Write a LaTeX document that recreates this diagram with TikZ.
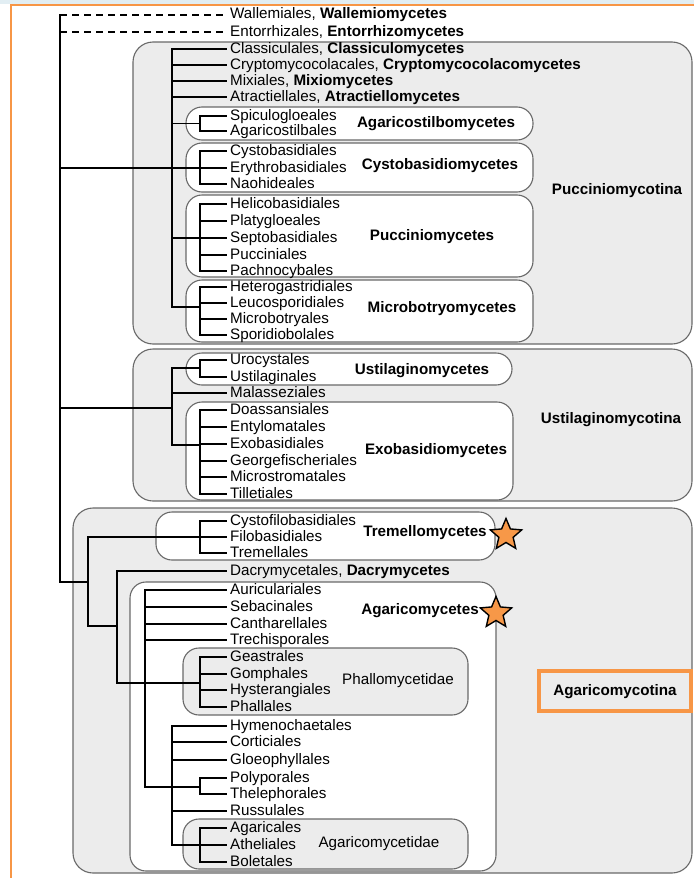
\documentclass[tikz,border=0pt]{standalone}
\usepackage{fontspec}
\setmainfont{Liberation Sans}
\usetikzlibrary{shapes.geometric}
\definecolor{boxgray}{RGB}{236,236,236}
\definecolor{edgegray}{RGB}{105,105,105}
\definecolor{starorange}{RGB}{247,152,72}
\definecolor{frameorange}{RGB}{247,150,70}
\definecolor{stripblue}{RGB}{226,238,243}
\tikzset{
  taxon/.style={anchor=west, inner xsep=4pt, inner ysep=0pt, text height=11pt, text depth=3pt, font=\fontsize{15.2}{17}\selectfont},
  grouplabel/.style={inner sep=0pt, text height=11pt, text depth=3pt, font=\fontsize{15.2}{17}\selectfont\bfseries},
  subclasslabel/.style={inner sep=0pt, text height=11pt, text depth=3pt, font=\fontsize{15.2}{17}\selectfont},
  subphylumbox/.style={draw=edgegray, fill=boxgray, line width=1.1pt, rounded corners=20pt},
  classbox/.style={draw=edgegray, fill=white, line width=1.1pt, rounded corners=16pt},
  subclassbox/.style={draw=edgegray, fill=boxgray, line width=1.1pt, rounded corners=16pt},
  branch/.style={line width=1.5pt, line cap=rect},
  uncertain/.style={line width=1.5pt, dash pattern=on 7pt off 5pt},
  goldstar/.style={star, star points=5, star point ratio=2.2, minimum size=33pt, inner sep=0pt, draw=black, line width=1.4pt, fill=starorange}
}

\begin{document}
\begin{tikzpicture}[x=1pt, y=-1pt]
  \useasboundingbox (0,0) rectangle (694,878);
  \fill[stripblue] (0,0) rectangle (694,4);
  \draw[frameorange, line width=2pt] (694,5) -- (11,5) -- (11,878);

  % subphylum boxes
  \path[subphylumbox] (133,42) rectangle (692,344);
  \path[subphylumbox] (133,349) rectangle (692,501);
  \path[subphylumbox] (73,508) rectangle (692,873);
  % class boxes
  \path[classbox] (186,107) rectangle (533,140);
  \path[classbox] (186,143) rectangle (533,192);
  \path[classbox] (186,195) rectangle (533,277);
  \path[classbox] (186,280) rectangle (533,342);
  \path[classbox] (186,353) rectangle (512,385);
  \path[classbox] (186,402) rectangle (513,500);
  \path[classbox] (156,512) rectangle (495,560);
  \path[classbox] (130,582) rectangle (496,871);
  % subclass boxes
  \path[subclassbox] (183,648) rectangle (468,715);
  \path[subclassbox] (183,819) rectangle (468,869);

  % group labels
  \node[grouplabel] (pucl) at (617,190) {Pucciniomycotina};
  \node[grouplabel] (agstl) at (436,123) {Agaricostilbomycetes};
  \node[grouplabel] (cysl) at (440,165) {Cystobasidiomycetes};
  \node[grouplabel] (pucml) at (432,236) {Pucciniomycetes};
  \node[grouplabel] (micl) at (442,308) {Microbotryomycetes};
  \node[grouplabel] (ustl) at (611,419) {Ustilaginomycotina};
  \node[grouplabel] (usml) at (422,370) {Ustilaginomycetes};
  \node[grouplabel] (exol) at (436,450) {Exobasidiomycetes};
  \node[grouplabel] (trel) at (425,532) {Tremellomycetes};
  \node[grouplabel] (agcl) at (420,610) {Agaricomycetes};
  \node[subclasslabel] (phll) at (398,680) {Phallomycetidae};
  \node[subclasslabel] (agdl) at (379,843) {Agaricomycetidae};
  \node[grouplabel, draw=frameorange, line width=3.5pt, minimum width=152pt, minimum height=40pt] (agml) at (615,691) {Agaricomycotina};
  \node[goldstar] (trestar) at (506,535) {};
  \node[goldstar] (agcstar) at (496,613) {};

  % leaves
  \node[taxon] (wal) at (226,15) {Wallemiales, \textbf{Wallemiomycetes}};
  \node[taxon] (ent) at (226,32) {Entorrhizales, \textbf{Entorrhizomycetes}};
  \node[taxon] (cla) at (226,49) {Classiculales, \textbf{Classiculomycetes}};
  \node[taxon] (cry) at (226,65) {Cryptomycocolacales, \textbf{Cryptomycocolacomycetes}};
  \node[taxon] (mix) at (226,81) {Mixiales, \textbf{Mixiomycetes}};
  \node[taxon] (atr) at (226,97) {Atractiellales, \textbf{Atractiellomycetes}};
  \node[taxon] (spi) at (226,116) {Spiculogloeales};
  \node[taxon] (agc) at (226,131) {Agaricostilbales};
  \node[taxon] (cys) at (226,151) {Cystobasidiales};
  \node[taxon] (ery) at (226,168) {Erythrobasidiales};
  \node[taxon] (nao) at (226,184) {Naohideales};
  \node[taxon] (hel) at (226,204) {Helicobasidiales};
  \node[taxon] (pla) at (226,221) {Platygloeales};
  \node[taxon] (sep) at (226,238) {Septobasidiales};
  \node[taxon] (puc) at (226,255) {Pucciniales};
  \node[taxon] (pac) at (226,271) {Pachnocybales};
  \node[taxon] (het) at (226,287) {Heterogastridiales};
  \node[taxon] (leu) at (226,303) {Leucosporidiales};
  \node[taxon] (mib) at (226,319) {Microbotryales};
  \node[taxon] (spo) at (226,335) {Sporidiobolales};
  \node[taxon] (uro) at (226,360) {Urocystales};
  \node[taxon] (ust) at (226,377) {Ustilaginales};
  \node[taxon] (mal) at (226,393) {Malasseziales};
  \node[taxon] (doa) at (226,410) {Doassansiales};
  \node[taxon] (ety) at (226,427) {Entylomatales};
  \node[taxon] (exo) at (226,444) {Exobasidiales};
  \node[taxon] (geo) at (226,461) {Georgefischeriales};
  \node[taxon] (mis) at (226,477) {Microstromatales};
  \node[taxon] (til) at (226,494) {Tilletiales};
  \node[taxon] (cyf) at (226,521) {Cystofilobasidiales};
  \node[taxon] (fil) at (226,537) {Filobasidiales};
  \node[taxon] (tre) at (226,553) {Tremellales};
  \node[taxon] (dac) at (226,571) {Dacrymycetales, \textbf{Dacrymycetes}};
  \node[taxon] (aur) at (226,590) {Auriculariales};
  \node[taxon] (seb) at (226,607) {Sebacinales};
  \node[taxon] (can) at (226,624) {Cantharellales};
  \node[taxon] (trc) at (226,640) {Trechisporales};
  \node[taxon] (gea) at (226,657) {Geastrales};
  \node[taxon] (gom) at (226,674) {Gomphales};
  \node[taxon] (hys) at (226,690) {Hysterangiales};
  \node[taxon] (pha) at (226,707) {Phallales};
  \node[taxon] (hym) at (226,726) {Hymenochaetales};
  \node[taxon] (cor) at (226,742) {Corticiales};
  \node[taxon] (glo) at (226,760) {Gloeophyllales};
  \node[taxon] (pol) at (226,778) {Polyporales};
  \node[taxon] (the) at (226,794) {Thelephorales};
  \node[taxon] (rus) at (226,811) {Russulales};
  \node[taxon] (agr) at (226,828) {Agaricales};
  \node[taxon] (ath) at (226,845) {Atheliales};
  \node[taxon] (bol) at (226,862) {Boletales};

  % branching points
  \coordinate (nRoot) at (60,15);
  \coordinate (nPuc) at (172,168);
  \coordinate (nUst) at (172,408);
  \coordinate (nAgm) at (88,582);
  \coordinate (nAgst) at (200,123.5);
  \coordinate (nCys) at (200,168);
  \coordinate (nPucm) at (200,238);
  \coordinate (nMic) at (200,307);
  \coordinate (nUsm) at (200,368);
  \coordinate (nExo) at (200,445);
  \coordinate (nTre) at (200,537);
  \coordinate (nBas) at (117,626);
  \coordinate (nAgc) at (145,683);
  \coordinate (nPhl) at (200,683);
  \coordinate (nAgrc) at (172,787);
  \coordinate (nPol) at (200,787);
  \coordinate (nAgd) at (200,845);

  % backbone
  \draw[branch] (nRoot) -- (nRoot |- nAgm);
  \draw[uncertain] (nRoot |- wal.west) -- (wal.west);
  \draw[uncertain] (nRoot |- ent.west) -- (ent.west);
  \foreach \c in {nPuc,nUst,nAgm}
    \draw[branch] (nRoot |- \c) -- (\c);

  % Pucciniomycotina
  \draw[branch] (nPuc |- cla.west) -- (nPuc |- nMic);
  \foreach \c in {cla.west,cry.west,mix.west,atr.west,nAgst,nCys,nPucm,nMic}
    \draw[branch] (nPuc |- \c) -- (\c);
  \draw[branch] (nAgst |- spi.west) -- (nAgst |- agc.west);
  \foreach \c in {spi,agc}
    \draw[branch] (nAgst |- \c.west) -- (\c.west);
  \draw[branch] (nCys |- cys.west) -- (nCys |- nao.west);
  \foreach \c in {cys,ery,nao}
    \draw[branch] (nCys |- \c.west) -- (\c.west);
  \draw[branch] (nPucm |- hel.west) -- (nPucm |- pac.west);
  \foreach \c in {hel,pla,sep,puc,pac}
    \draw[branch] (nPucm |- \c.west) -- (\c.west);
  \draw[branch] (nMic |- het.west) -- (nMic |- spo.west);
  \foreach \c in {het,leu,mib,spo}
    \draw[branch] (nMic |- \c.west) -- (\c.west);

  % Ustilaginomycotina
  \draw[branch] (nUst |- nUsm) -- (nUst |- nExo);
  \foreach \c in {nUsm,mal.west,nExo}
    \draw[branch] (nUst |- \c) -- (\c);
  \draw[branch] (nUsm |- uro.west) -- (nUsm |- ust.west);
  \foreach \c in {uro,ust}
    \draw[branch] (nUsm |- \c.west) -- (\c.west);
  \draw[branch] (nExo |- doa.west) -- (nExo |- til.west);
  \foreach \c in {doa,ety,exo,geo,mis,til}
    \draw[branch] (nExo |- \c.west) -- (\c.west);

  % Agaricomycotina
  \draw[branch] (nAgm |- nTre) -- (nAgm |- nBas);
  \foreach \c in {nTre,nBas}
    \draw[branch] (nAgm |- \c) -- (\c);
  \draw[branch] (nTre |- cyf.west) -- (nTre |- tre.west);
  \foreach \c in {cyf,fil,tre}
    \draw[branch] (nTre |- \c.west) -- (\c.west);
  \draw[branch] (nBas |- dac.west) -- (nBas |- nAgc);
  \foreach \c in {dac.west,nAgc}
    \draw[branch] (nBas |- \c) -- (\c);
  \draw[branch] (nAgc |- aur.west) -- (nAgc |- nAgrc);
  \foreach \c in {aur.west,seb.west,can.west,trc.west,nPhl,nAgrc}
    \draw[branch] (nAgc |- \c) -- (\c);
  \draw[branch] (nPhl |- gea.west) -- (nPhl |- pha.west);
  \foreach \c in {gea,gom,hys,pha}
    \draw[branch] (nPhl |- \c.west) -- (\c.west);
  \draw[branch] (nAgrc |- hym.west) -- (nAgrc |- nAgd);
  \foreach \c in {hym.west,cor.west,glo.west,nPol,rus.west,nAgd}
    \draw[branch] (nAgrc |- \c) -- (\c);
  \draw[branch] (nPol |- pol.west) -- (nPol |- the.west);
  \foreach \c in {pol,the}
    \draw[branch] (nPol |- \c.west) -- (\c.west);
  \draw[branch] (nAgd |- agr.west) -- (nAgd |- bol.west);
  \foreach \c in {agr,ath,bol}
    \draw[branch] (nAgd |- \c.west) -- (\c.west);
\end{tikzpicture}
\end{document}
